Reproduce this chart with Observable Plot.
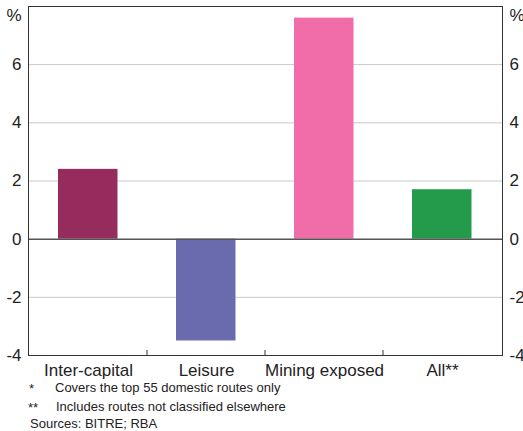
<!DOCTYPE html>
<html>
<head>
<meta charset="utf-8">
<script src="https://cdn.jsdelivr.net/npm/d3@7"></script>
<script src="https://cdn.jsdelivr.net/npm/@observablehq/plot@0.6"></script>
<style>
  html, body { margin: 0; padding: 0; background: #fff; }
  #wrap { position: relative; width: 523px; height: 431px; font-family: "Liberation Sans", Arial, sans-serif; color: #222; }
  #chart { position: absolute; left: 0; top: 0; }
  .note { position: absolute; font-size: 13px; line-height: 15px; white-space: nowrap; }
</style>
</head>
<body>
<div id="wrap">
  <div id="chart"></div>
  <div class="note" style="left:29px; top:381px;">*</div>
  <div class="note" style="left:55px; top:380px;">Covers the top 55 domestic routes only</div>
  <div class="note" style="left:28px; top:400px;">**</div>
  <div class="note" style="left:56px; top:399px;">Includes routes not classified elsewhere</div>
  <div class="note" style="left:30px; top:416px;">Sources: BITRE; RBA</div>
</div>
<script>
const categories = ["Inter-capital", "Leisure", "Mining exposed", "All**"];
const growth = [2.4, -3.5, 7.6, 1.7];
const colors = ["#962B5E", "#6A6AAE", "#F06DA9", "#239B4B"];
const yTicks = [-4, -2, 0, 2, 4, 6];
const gridTicks = [-2, 2, 4, 6];
const unitLabel = "%";

const data = categories.map((c, i) => ({category: c, value: growth[i]}));

const sepTicks = (index, scales, values, dims) => {
  const g = d3.create("svg:g");
  const yb = dims.height - dims.marginBottom;
  categories.slice(1).forEach(c => {
    const px = scales.x(c);
    g.append("line")
      .attr("x1", px).attr("x2", px)
      .attr("y1", yb).attr("y2", yb - 5)
      .attr("stroke", "#333");
  });
  return g.node();
};

const chart = Plot.plot({
  width: 523,
  height: 380,
  marginLeft: 28,
  marginRight: 21,
  marginTop: 6,
  marginBottom: 25,
  style: {fontFamily: "'Liberation Sans', Arial, sans-serif", fontSize: "17px", color: "#222", background: "white"},
  x: {domain: categories, padding: 0, axis: null},
  y: {domain: [-4, 8], axis: null},
  color: {domain: categories, range: colors},
  marks: [
    Plot.ruleY(gridTicks, {stroke: "#c8c8c8", strokeWidth: 1}),
    Plot.barY(data, {x: "category", y: "value", fill: "category", insetLeft: 29, insetRight: 29.5}),
    Plot.ruleY([0], {stroke: "#555", strokeWidth: 1.5}),
    Plot.axisY(yTicks, {anchor: "left", tickSize: 0, tickPadding: 7, fontSize: 17, tickFormat: d => String(d), label: null}),
    Plot.axisY(yTicks, {anchor: "right", tickSize: 0, tickPadding: 7, fontSize: 17, tickFormat: d => String(d), label: null}),
    Plot.text([8], {y: d => d, frameAnchor: "left", dx: -7, textAnchor: "end", lineAnchor: "top", dy: 2, text: () => unitLabel, fontSize: 17}),
    Plot.text([8], {y: d => d, frameAnchor: "right", dx: 7, textAnchor: "start", lineAnchor: "top", dy: 2, text: () => unitLabel, fontSize: 17}),
    Plot.axisX(categories, {tickSize: 0, tickPadding: 8, fontSize: 17, label: null}),
    Plot.frame({stroke: "#333", strokeWidth: 1}),
    sepTicks
  ]
});
document.getElementById("chart").appendChild(chart);
</script>
</body>
</html>
